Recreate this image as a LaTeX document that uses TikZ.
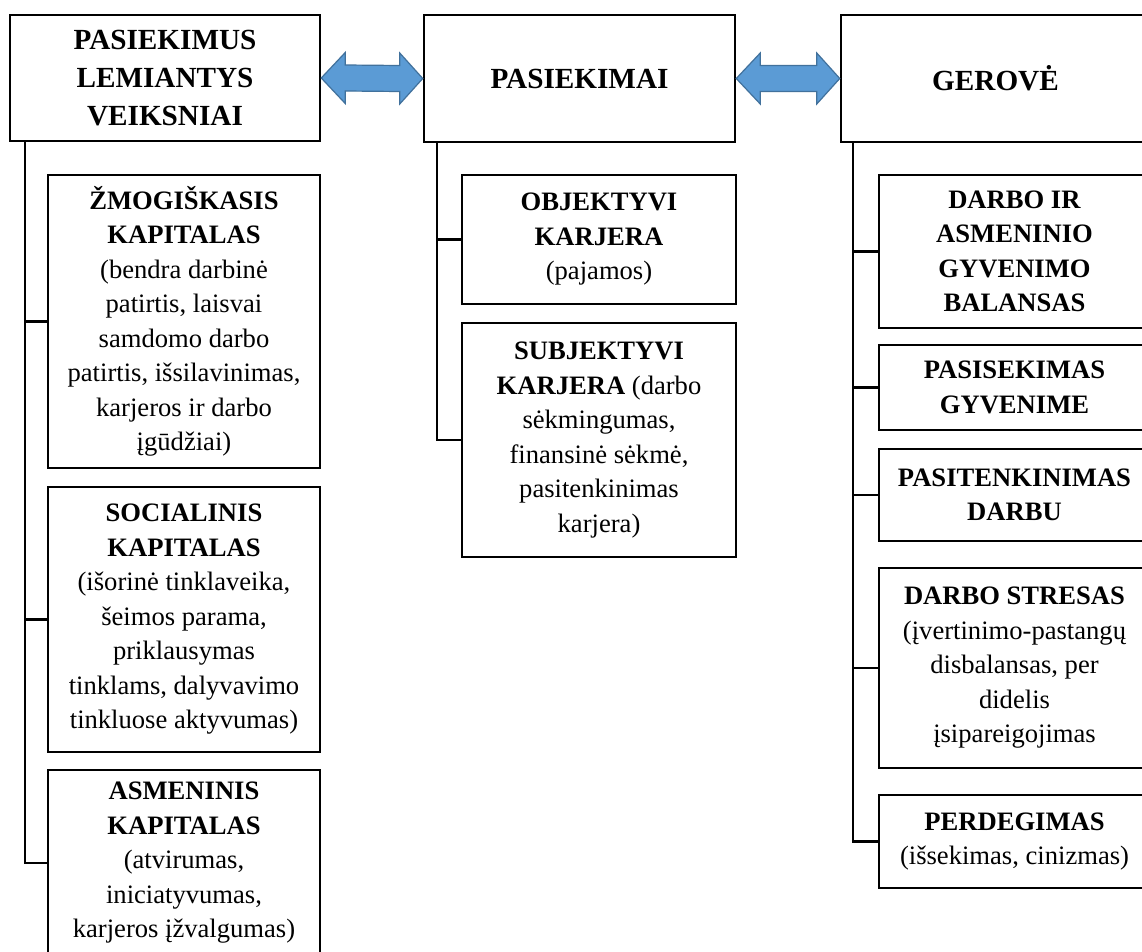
\documentclass[tikz,border=0pt]{standalone}
\usepackage{fontspec}
\setmainfont{Liberation Serif}
\usetikzlibrary{calc}
\definecolor{arrowfill}{HTML}{5B9BD5}
\definecolor{arrowline}{HTML}{41719C}
\begin{document}
\begin{tikzpicture}[x=1pt,y=-1pt,
  box/.style={draw, line width=2.5pt, align=center, inner sep=0pt,
    font=\fontsize{26.6}{34.5}\selectfont},
  topbox/.style={box, font=\fontsize{29.2}{38}\selectfont\bfseries},
  conn/.style={line width=2.3pt},
  bigarrow/.style={fill=arrowfill, draw=arrowline, line width=1.2pt, line join=miter}]
\useasboundingbox (0,0) rectangle (1142,952);
\fill[white] (0,0) rectangle (1142,952);
\clip (0,0) rectangle (1142,952);

% top boxes
\node[topbox, minimum width=310pt, minimum height=126pt, text depth=-6pt] (L) at (165,78) {PASIEKIMUS\\LEMIANTYS\\VEIKSNIAI};
\node[topbox, minimum width=311pt, minimum height=127pt] (M) at (579.5,78.5) {PASIEKIMAI};
\node[topbox, minimum width=309pt, minimum height=127pt] (R) at (995.5,78.5) {GEROVĖ};

% double arrows
\draw[bigarrow] (L.east) -- ++(24,-25.5) -- ++(0,12.5) -- ($(M.west)+(-23,-13)$) -- ++(0,-12.5) -- (M.west) -- ++(-23,25.5) -- ++(0,-12.5) -- ($(L.east)+(24,13)$) -- ++(0,12.5) -- cycle;
\draw[bigarrow] (M.east) -- ++(24,-25.5) -- ++(0,12.5) -- ($(R.west)+(-23,-13)$) -- ++(0,-12.5) -- (R.west) -- ++(-23,25.5) -- ++(0,-12.5) -- ($(M.east)+(24,13)$) -- ++(0,12.5) -- cycle;

% left column
\node[box, minimum width=272pt, minimum height=293pt] (l1) at (184,321.5)
  {\textbf{ŽMOGIŠKASIS}\\\textbf{KAPITALAS}\\(bendra darbinė\\patirtis, laisvai\\samdomo darbo\\patirtis, išsilavinimas,\\karjeros ir darbo\\įgūdžiai)};
\node[box, minimum width=272pt, minimum height=265pt] (l2) at (184,619.5)
  {\textbf{SOCIALINIS}\\\textbf{KAPITALAS}\\(išorinė tinklaveika,\\šeimos parama,\\priklausymas\\tinklams, dalyvavimo\\tinkluose aktyvumas)};
\node[box, minimum width=272pt, minimum height=186pt] (l3) at (184,863)
  {\textbf{ASMENINIS}\\\textbf{KAPITALAS}\\(atvirumas,\\iniciatyvumas,\\karjeros įžvalgumas)};

% middle column
\node[box, minimum width=274pt, minimum height=129pt] (m1) at (599,239.5)
  {\textbf{OBJEKTYVI}\\\textbf{KARJERA}\\(pajamos)};
\node[box, minimum width=274pt, minimum height=234pt] (m2) at (599,440)
  {\textbf{SUBJEKTYVI}\\\textbf{KARJERA} (darbo\\sėkmingumas,\\finansinė sėkmė,\\pasitenkinimas\\karjera)};

% right column
\node[box, minimum width=271pt, minimum height=153pt] (r1) at (1014.5,251.5)
  {\textbf{DARBO IR}\\\textbf{ASMENINIO}\\\textbf{GYVENIMO}\\\textbf{BALANSAS}};
\node[box, minimum width=271pt, minimum height=85pt] (r2) at (1014.5,387.5)
  {\textbf{PASISEKIMAS}\\\textbf{GYVENIME}};
\node[box, minimum width=271pt, minimum height=92pt] (r3) at (1014.5,495)
  {\textbf{PASITENKINIMAS}\\\textbf{DARBU}};
\node[box, minimum width=271pt, minimum height=200pt] (r4) at (1014.5,668)
  {\textbf{DARBO STRESAS}\\(įvertinimo-pastangų\\disbalansas, per\\didelis\\įsipareigojimas};
\node[box, minimum width=271pt, minimum height=93pt] (r5) at (1014.5,841.5)
  {\textbf{PERDEGIMAS}\\(išsekimas, cinizmas)};

% trunk start points
\coordinate (lt) at ($(L.south west)+(16,0)$);
\coordinate (mt) at ($(M.south west)+(14,0)$);
\coordinate (rt) at ($(R.south west)+(13,0)$);

% connectors
\foreach \c in {l1,l2,l3} \draw[conn] (lt) |- (\c.west);
\foreach \c in {m1,m2} \draw[conn] (mt) |- (\c.west);
\foreach \c in {r1,r2,r3,r4,r5} \draw[conn] (rt) |- (\c.west);
\end{tikzpicture}
\end{document}
